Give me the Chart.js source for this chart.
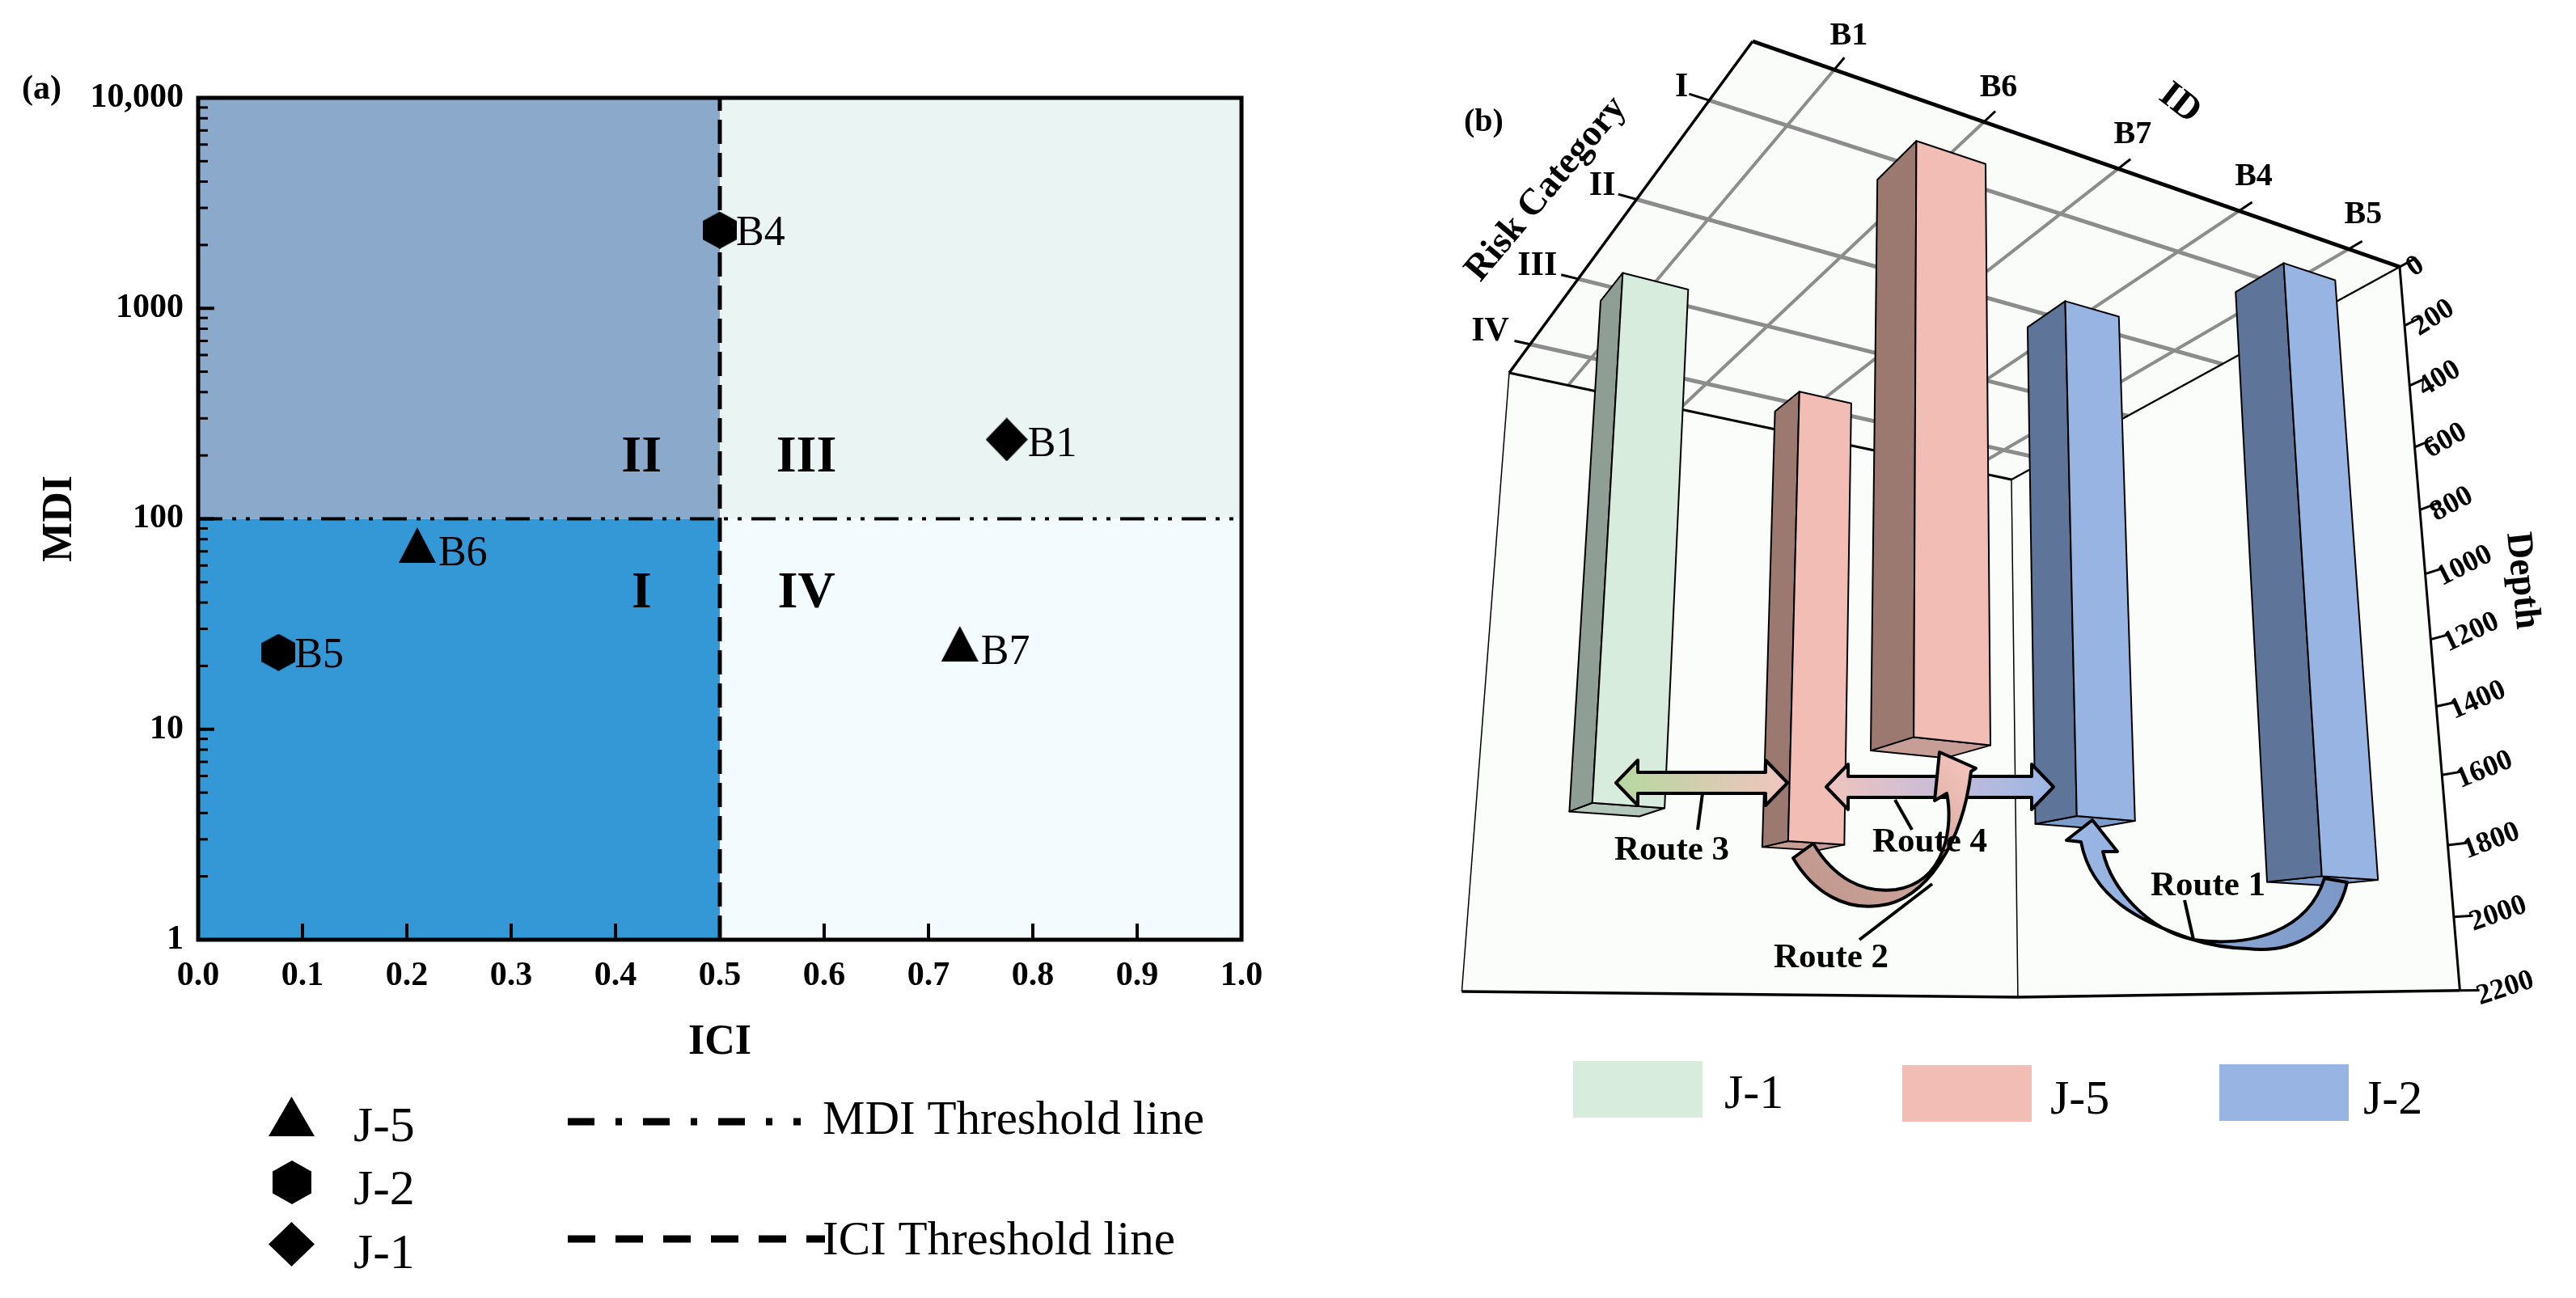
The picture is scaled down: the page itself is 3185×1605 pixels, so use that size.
<!DOCTYPE html>
<html>
<head>
<meta charset="utf-8">
<title>MDI / ICI risk categories and depth</title>
<script src="https://cdn.jsdelivr.net/npm/chart.js@4/dist/chart.umd.js"></script>
<style>
  html, body { margin: 0; background: #fff; overflow: hidden; }
  canvas { position: absolute; top: 0; }
  #chart-a { left: 0; }
  #chart-b { left: 1700px; }
</style>
</head>
<body>
<canvas id="chart-a" width="1700" height="1605"></canvas>
<canvas id="chart-b" width="1485" height="1605"></canvas>
<script>
// ── Panel (a) data ───────────────────────────────────────────
const mdiTicks = [1,2,3,4,5,6,7,8,9,10,20,30,40,50,60,70,80,90,100,200,300,400,500,600,700,800,900,1000,2000,3000,4000,5000,6000,7000,8000,9000,10000];
const mdiMajorLabels = { 1: '1', 10: '10', 100: '100', 1000: '1000', 10000: '10,000' };

const j5Names = ['B6', 'B7'];
const j5Ici   = [0.21, 0.73];
const j5Mdi   = [75, 25.5];

const j2Names = ['B5', 'B4'];
const j2Ici   = [0.077, 0.5];
const j2Mdi   = [23.2, 2350];

const j1Names = ['B1'];
const j1Ici   = [0.775];
const j1Mdi   = [238];

const iciThreshold = 0.5;
const mdiThreshold = 100;

const quadrantNames = ['I', 'II', 'III', 'IV'];
const quadrantIci   = [0.425, 0.425, 0.583, 0.583];
const quadrantMdi   = [44, 195, 195, 44];

// ── Panel (b) data ───────────────────────────────────────────
const idLabels   = ['B1', 'B6', 'B7', 'B4', 'B5'];
const riskLabels = ['I', 'II', 'III', 'IV'];
const depthTicks = [0, 200, 400, 600, 800, 1000, 1200, 1400, 1600, 1800, 2000, 2200];

// aligned with idLabels
const barRisk  = ['III', 'I', 'IV', 'II', 'I'];
const j1Depths = [1680, null, null, null, null];
const j5Depths = [null, 1620, 1685, null, null];
const j2Depths = [null, null, null, 1690, 1890];

// ── Shared look ──────────────────────────────────────────────
const SERIF = '"Liberation Serif", "Times New Roman", serif';
const BLUE  = { light: '#97B4E3', dark: '#5F7499', cap: '#7D9BCB' };
const PINK  = { light: '#F2BDB5', dark: '#9B7870', cap: '#C79E96' };
const GREEN = { light: '#D8ECDD', dark: '#8F9E94', cap: '#B3C7BA' };

Chart.defaults.font.family = SERIF;
Chart.defaults.color = '#000';
Chart.defaults.devicePixelRatio = 1;

function text(ctx, str, x, y, size, opts = {}) {
  ctx.save();
  ctx.font = `${opts.style || ''} ${opts.bold ? 'bold' : ''} ${size}px ${SERIF}`;
  ctx.fillStyle = '#000';
  ctx.textAlign = opts.align || 'left';
  ctx.textBaseline = opts.baseline || 'alphabetic';
  ctx.translate(x, y);
  if (opts.rotate) ctx.rotate(opts.rotate * Math.PI / 180);
  ctx.fillText(str, 0, 0);
  ctx.restore();
}

function line(ctx, x1, y1, x2, y2, width, color = '#000') {
  ctx.strokeStyle = color;
  ctx.lineWidth = width;
  ctx.beginPath();
  ctx.moveTo(x1, y1);
  ctx.lineTo(x2, y2);
  ctx.stroke();
}

// marker shapes, used as pointStyle and again in the legend
function makeMarker(w, h, pts) {
  const c = document.createElement('canvas');
  c.width = w; c.height = h;
  const g = c.getContext('2d');
  g.beginPath();
  pts.forEach(([px, py], i) => i ? g.lineTo(px * w, py * h) : g.moveTo(px * w, py * h));
  g.closePath();
  g.fillStyle = '#000';
  g.fill();
  return c;
}
const TRIANGLE = [[.5,0],[1,1],[0,1]];
const HEXAGON  = [[.5,0],[1,.25],[1,.75],[.5,1],[0,.75],[0,.25]];
const DIAMOND  = [[.5,0],[1,.5],[.5,1],[0,.5]];

// ── Panel (a): quadrants, ticks, labels, legend ──────────────
const quadrantPlugin = {
  id: 'quadrants',
  beforeDatasetsDraw(chart) {
    const { ctx, chartArea: a, scales: { x, y } } = chart;
    const mx = x.getPixelForValue(iciThreshold), my = y.getPixelForValue(mdiThreshold);
    ctx.save();
    ctx.fillStyle = '#8BA9CB'; ctx.fillRect(a.left, a.top, mx - a.left, my - a.top);
    ctx.fillStyle = '#EAF4F2'; ctx.fillRect(mx, a.top, a.right - mx, my - a.top);
    ctx.fillStyle = '#3498D6'; ctx.fillRect(a.left, my, mx - a.left, a.bottom - my);
    ctx.fillStyle = '#F3FBFE'; ctx.fillRect(mx, my, a.right - mx, a.bottom - my);
    ctx.restore();
  },
  afterDraw(chart) {
    const { ctx, chartArea: a, scales: { x, y } } = chart;
    ctx.save();
    // inward ticks
    x.ticks.forEach(t => {
      const px = x.getPixelForValue(t.value);
      line(ctx, px, a.bottom, px, a.bottom - 20, 4);
    });
    y.ticks.forEach(t => {
      const py = y.getPixelForValue(t.value);
      const major = mdiMajorLabels[t.value] !== undefined;
      line(ctx, a.left, py, a.left + (major ? 20 : 12), py, major ? 4 : 3);
    });
    ctx.strokeStyle = '#000';
    ctx.lineWidth = 5;
    ctx.strokeRect(a.left, a.top, a.right - a.left, a.bottom - a.top);

    quadrantNames.forEach((q, i) => {
      text(ctx, q, x.getPixelForValue(quadrantIci[i]), y.getPixelForValue(quadrantMdi[i]), 64,
        { bold: true, align: 'center', baseline: 'middle' });
    });

    // point names
    chart.data.datasets.forEach(ds => {
      if (!ds.names) return;
      ds.data.forEach((p, k) => {
        text(ctx, ds.names[k], x.getPixelForValue(p.x) + ds.nameDx, y.getPixelForValue(p.y) + ds.nameDy, 52,
          { baseline: 'middle' });
      });
    });

    text(ctx, '(a)', 27, 122, 42, { bold: true });

    // legend
    ctx.drawImage(legendTriangle, 332, 1356);
    ctx.drawImage(legendHexagon, 337, 1435);
    ctx.drawImage(legendDiamond, 332, 1511);
    text(ctx, 'J-5', 437, 1411, 62);
    text(ctx, 'J-2', 437, 1489, 62);
    text(ctx, 'J-1', 437, 1568, 62);

    ctx.setLineDash([33, 26, 8, 26]);
    line(ctx, 702, 1387, 990, 1387, 9);
    ctx.setLineDash([34, 25]);
    line(ctx, 702, 1532, 1020, 1532, 9);
    ctx.setLineDash([]);
    text(ctx, 'MDI Threshold line', 1017, 1402, 59);
    text(ctx, 'ICI Threshold line', 1017, 1551, 59);
    ctx.restore();
  },
};

const legendTriangle = makeMarker(57, 49, TRIANGLE);
const legendHexagon  = makeMarker(48, 54, HEXAGON);
const legendDiamond  = makeMarker(57, 55, DIAMOND);

const pts = (xs, ys) => xs.map((v, i) => ({ x: v, y: ys[i] }));

new Chart(document.getElementById('chart-a'), {
  data: {
    datasets: [
      { type: 'scatter', label: 'J-5', data: pts(j5Ici, j5Mdi), names: j5Names, nameDx: 26, nameDy: 11,
        pointStyle: makeMarker(46, 44, TRIANGLE), pointRadius: 22, order: 1 },
      { type: 'scatter', label: 'J-2', data: pts(j2Ici, j2Mdi), names: j2Names, nameDx: 20, nameDy: 5,
        pointStyle: makeMarker(42, 46, HEXAGON), pointRadius: 22, order: 1 },
      { type: 'scatter', label: 'J-1', data: pts(j1Ici, j1Mdi), names: j1Names, nameDx: 26, nameDy: 7,
        pointStyle: makeMarker(52, 54, DIAMOND), pointRadius: 24, order: 1 },
      { type: 'line', label: 'MDI Threshold line', data: [{ x: 0, y: mdiThreshold }, { x: 1, y: mdiThreshold }],
        borderColor: '#000', borderWidth: 4, borderDash: [30, 12, 5, 12, 5, 12], pointRadius: 0, order: 3 },
      { type: 'line', label: 'ICI Threshold line', data: [{ x: iciThreshold, y: 1 }, { x: iciThreshold, y: 10000 }],
        borderColor: '#000', borderWidth: 5, borderDash: [30, 11], pointRadius: 0, order: 2 },
    ],
  },
  options: {
    responsive: false,
    animation: false,
    events: [],
    layout: { padding: { left: 0, top: 121, right: 165, bottom: 278 } },
    plugins: { legend: { display: false }, tooltip: { enabled: false } },
    scales: {
      x: {
        type: 'linear', min: 0, max: 1,
        afterFit: s => { s.height = 165; },
        grid: { display: false, drawTicks: false },
        border: { display: false },
        ticks: { stepSize: 0.1, padding: 20, maxRotation: 0, font: { size: 42, weight: 'bold' }, callback: v => v.toFixed(1) },
        title: { display: true, text: 'ICI', font: { size: 52, weight: 'bold' }, padding: { top: 0, bottom: 6 } },
      },
      y: {
        type: 'logarithmic', min: 1, max: 10000,
        afterFit: s => { s.width = 245; },
        afterBuildTicks: s => { s.ticks = mdiTicks.map(v => ({ value: v })); },
        grid: { display: false, drawTicks: false },
        border: { display: false },
        ticks: { padding: 18, autoSkip: false, font: { size: 42, weight: 'bold' }, callback: v => mdiMajorLabels[v] || '' },
        title: { display: true, text: 'MDI', font: { size: 52, weight: 'bold' }, padding: { top: 43, bottom: 0 } },
      },
    },
  },
  plugins: [quadrantPlugin],
});

// ── Panel (b): perspective box built on hidden Chart.js scales ─
const CANVAS_B_LEFT = 1700;
// corners of the depth-0 plane on the page, and where the vertical edges converge
const BACK = [2167, 51], RIGHT = [2967, 330], LEFT = [1866, 461], FRONT = [2487, 593];
const VANISH = [2399, -6496];
const DEPTH_K = 6.84e-5;
const BAR_HALF = 0.05;

const sx = BACK[0] - RIGHT[0] + FRONT[0] - LEFT[0], sy = BACK[1] - RIGHT[1] + FRONT[1] - LEFT[1];
const d1x = RIGHT[0] - FRONT[0], d2x = LEFT[0] - FRONT[0], d1y = RIGHT[1] - FRONT[1], d2y = LEFT[1] - FRONT[1];
const det = d1x * d2y - d2x * d1y;
const G = (sx * d2y - d2x * sy) / det;
const H = (d1x * sy - sx * d1y) / det;

// u along the ID axis, v along the risk axis, both 0..1; depth in metres
function project(u, v, depth) {
  const h = 1 + G * u + H * v;
  const X = BACK[0] + (RIGHT[0] * (1 + G) - BACK[0]) * u + (LEFT[0] * (1 + H) - BACK[0]) * v;
  const Y = BACK[1] + (RIGHT[1] * (1 + G) - BACK[1]) * u + (LEFT[1] * (1 + H) - BACK[1]) * v;
  const dk = depth * DEPTH_K;
  return [(X - dk * VANISH[0]) / (h - dk), (Y - dk * VANISH[1]) / (h - dk)];
}

function poly(ctx, points, fill, stroke, width) {
  ctx.beginPath();
  points.forEach((p, i) => i ? ctx.lineTo(p[0], p[1]) : ctx.moveTo(p[0], p[1]));
  ctx.closePath();
  if (fill) { ctx.fillStyle = fill; ctx.fill(); }
  if (stroke) { ctx.strokeStyle = stroke; ctx.lineWidth = width; ctx.lineJoin = 'round'; ctx.stroke(); }
}

function doubleArrow(ctx, xl, xr, y, headLen, shaftHalf, headHalf, stops) {
  const g = ctx.createLinearGradient(xl, 0, xr, 0);
  stops.forEach((c, i) => g.addColorStop(i / (stops.length - 1), c));
  poly(ctx, [
    [xl, y], [xl + headLen, y - headHalf], [xl + headLen, y - shaftHalf],
    [xr - headLen, y - shaftHalf], [xr - headLen, y - headHalf], [xr, y],
    [xr - headLen, y + headHalf], [xr - headLen, y + shaftHalf],
    [xl + headLen, y + shaftHalf], [xl + headLen, y + headHalf],
  ], g, '#000', 4);
}

function drawRoutes(ctx) {
  doubleArrow(ctx, 1998, 2210, 968, 27, 13, 28, ['#B5D8A0', '#F0C4BE']);
  doubleArrow(ctx, 2258, 2539, 973, 27, 13, 28, ['#F0C4BE', '#C8BCD8', '#9AB6E4']);

  // route 2, wide tail at J-5 bar bottom, head up past the double arrow
  let g = ctx.createLinearGradient(2238, 1110, 2427, 950);
  g.addColorStop(0, '#C0978D'); g.addColorStop(0.55, '#CFA59C'); g.addColorStop(1, '#F2C2BA');
  ctx.beginPath();
  ctx.moveTo(2217, 1061);
  ctx.bezierCurveTo(2243, 1105, 2282, 1125, 2322, 1120);
  ctx.bezierCurveTo(2382, 1115, 2427, 1040, 2437, 954);
  ctx.lineTo(2443, 950); ctx.lineTo(2398, 930); ctx.lineTo(2392, 990); ctx.lineTo(2407, 981);
  ctx.bezierCurveTo(2415, 1020, 2407, 1090, 2344, 1100);
  ctx.bezierCurveTo(2302, 1105, 2267, 1085, 2242, 1043);
  ctx.closePath();
  ctx.fillStyle = g; ctx.fill();
  ctx.strokeStyle = '#000'; ctx.lineWidth = 4; ctx.stroke();

  // route 1
  g = ctx.createLinearGradient(2573, 0, 2902, 0);
  g.addColorStop(0, '#9AB6E4'); g.addColorStop(1, '#7A97C6');
  ctx.beginPath();
  ctx.moveTo(2902, 1091);
  ctx.bezierCurveTo(2889, 1150, 2835, 1180, 2779, 1173);
  ctx.bezierCurveTo(2755, 1172, 2730, 1168, 2712, 1162);
  ctx.bezierCurveTo(2646, 1140, 2586, 1110, 2573, 1041);
  ctx.lineTo(2555, 1039); ctx.lineTo(2587, 1014); ctx.lineTo(2618, 1053); ctx.lineTo(2600, 1053);
  ctx.bezierCurveTo(2611, 1100, 2656, 1150, 2712, 1162);
  ctx.bezierCurveTo(2785, 1172, 2854, 1150, 2874, 1086);
  ctx.closePath();
  ctx.fillStyle = g; ctx.fill();
  ctx.stroke();

  line(ctx, 2105, 981, 2099, 1026, 4);
  line(ctx, 2343, 989, 2364, 1026, 4);
  line(ctx, 2389, 1093, 2299, 1162, 4);
  line(ctx, 2701, 1113, 2712, 1162, 4);

  const bold = { bold: true, align: 'center', baseline: 'middle' };
  text(ctx, 'Route 3', 2067, 1052, 43, bold);
  text(ctx, 'Route 4', 2386, 1042, 43, bold);
  text(ctx, 'Route 2', 2264, 1185, 43, bold);
  text(ctx, 'Route 1', 2730, 1096, 43, bold);
}

const boxPlugin = {
  id: 'box3d',
  beforeDatasetsDraw(chart) {
    const { ctx, chartArea: a, scales: { x, risk, depth } } = chart;
    const uOf = l => (x.getPixelForValue(l) - a.left) / (a.right - a.left);
    const vOf = l => (risk.getPixelForValue(l) - a.top) / (a.bottom - a.top);
    const dOf = val => depth.max * (depth.getPixelForValue(val) - a.top) / (a.bottom - a.top);
    const bottom = dOf(depth.max);

    ctx.save();
    ctx.translate(-CANVAS_B_LEFT, 0);
    ctx.lineCap = 'butt';

    // walls and the depth-0 plane
    poly(ctx, [project(0, 1, 0), project(1, 1, 0), project(1, 1, bottom), project(0, 1, bottom)], '#FBFDFB');
    poly(ctx, [project(1, 1, 0), project(1, 0, 0), project(1, 0, bottom), project(1, 1, bottom)], '#FBFDFB');
    poly(ctx, [project(0, 0, 0), project(1, 0, 0), project(1, 1, 0), project(0, 1, 0)], '#F9FCF9');

    const seg = (p, q, w, c) => line(ctx, p[0], p[1], q[0], q[1], w, c);

    // grid and outward ticks
    idLabels.forEach(l => {
      const u = uOf(l);
      seg(project(u, 0, 0), project(u, 1, 0), 4, '#8C8C8C');
      seg(project(u, 0, 0), project(u, -0.025, 0), 3);
      const t = project(u, 0, 0);
      text(ctx, l, t[0] + 18, t[1] - 42, 40, { bold: true, align: 'center', baseline: 'middle' });
    });
    riskLabels.forEach(l => {
      const v = vOf(l);
      seg(project(0, v, 0), project(1, v, 0), 5, '#8C8C8C');
      seg(project(0, v, 0), project(-0.025, v, 0), 3);
      const t = project(0, v, 0);
      text(ctx, l, t[0] - 26, t[1] - 16, 42, { bold: true, align: 'right', baseline: 'middle' });
    });

    // box edges
    seg(project(0, 0, 0), project(1, 0, 0), 5);
    seg(project(0, 0, 0), project(0, 1, 0), 3.5);
    seg(project(0, 1, 0), project(1, 1, 0), 3);
    seg(project(1, 1, 0), project(1, 0, 0), 2.5);
    seg(project(0, 1, 0), project(0, 1, bottom), 1.5);
    seg(project(1, 1, 0), project(1, 1, bottom), 1.5);
    seg(project(1, 0, 0), project(1, 0, bottom), 3);
    seg(project(0, 1, bottom), project(1, 1, bottom), 3.5);
    seg(project(1, 1, bottom), project(1, 0, bottom), 3.5);

    // depth axis
    depthTicks.forEach(val => {
      const d = dOf(val);
      const t = project(1, 0, d);
      seg(t, project(1, -0.03, d), 3);
      const o = 12 + 10 * val / depth.max;
      text(ctx, String(val), t[0] + o, t[1] + o * 0.4, 36,
        { bold: true, baseline: 'middle', rotate: -34 + 16 * val / depth.max });
    });

    // bars, farthest first
    const bars = [];
    chart.data.datasets.forEach(ds => {
      ds.data.forEach((val, i) => {
        if (val === null) return;
        const u = uOf(idLabels[i]) - BAR_HALF, v = vOf(barRisk[i]) - BAR_HALF;
        bars.push({ u, v, d: dOf(val), colors: ds.colors, h: 1 + G * u + H * v });
      });
    });
    bars.sort((p, q) => q.h - p.h).forEach(({ u, v, d, colors }) => {
      const w = BAR_HALF * 2;
      poly(ctx, [project(u, v, d), project(u + w, v, d), project(u + w, v + w, d), project(u, v + w, d)], colors.cap, '#000', 2);
      poly(ctx, [project(u, v, 0), project(u, v + w, 0), project(u, v + w, d), project(u, v, d)], colors.dark, '#000', 2);
      poly(ctx, [project(u, v, 0), project(u + w, v, 0), project(u + w, v, d), project(u, v, d)], colors.light, '#000', 2);
    });

    drawRoutes(ctx);

    // axis titles and panel label
    text(ctx, '(b)', 1810, 152, 40, { bold: true, baseline: 'middle' });
    text(ctx, 'Risk Category', 1912, 234, 46, { bold: true, align: 'center', baseline: 'middle', rotate: -50 });
    text(ctx, 'ID', 2695, 128, 46, { bold: true, align: 'center', baseline: 'middle', rotate: 38 });
    text(ctx, 'Depth', 3118, 718, 46, { bold: true, align: 'center', baseline: 'middle', rotate: 84 });

    // legend
    const swatch = (sw, xs, ys, label, tx, ty) => {
      ctx.fillStyle = sw; ctx.fillRect(xs, ys, 160, 70);
      text(ctx, label, tx, ty, 60);
    };
    swatch(GREEN.light, 1945, 1312, 'J-1', 2132, 1370);
    swatch(PINK.light, 2352, 1317, 'J-5', 2535, 1377);
    swatch(BLUE.light, 2744, 1316, 'J-2', 2922, 1377);

    ctx.restore();
    return false; // bars are done above, skip the flat 2D ones
  },
};

new Chart(document.getElementById('chart-b'), {
  type: 'bar',
  data: {
    labels: idLabels,
    datasets: [
      { label: 'J-1', data: j1Depths, yAxisID: 'depth', colors: GREEN },
      { label: 'J-5', data: j5Depths, yAxisID: 'depth', colors: PINK },
      { label: 'J-2', data: j2Depths, yAxisID: 'depth', colors: BLUE },
    ],
  },
  options: {
    responsive: false,
    animation: false,
    events: [],
    plugins: { legend: { display: false }, tooltip: { enabled: false } },
    scales: {
      x: { type: 'category', offset: true, display: false },
      risk: { type: 'category', axis: 'y', labels: riskLabels, offset: true, display: false },
      depth: { type: 'linear', axis: 'y', min: 0, max: 2200, reverse: true, display: false },
    },
  },
  plugins: [boxPlugin],
});
</script>
</body>
</html>
